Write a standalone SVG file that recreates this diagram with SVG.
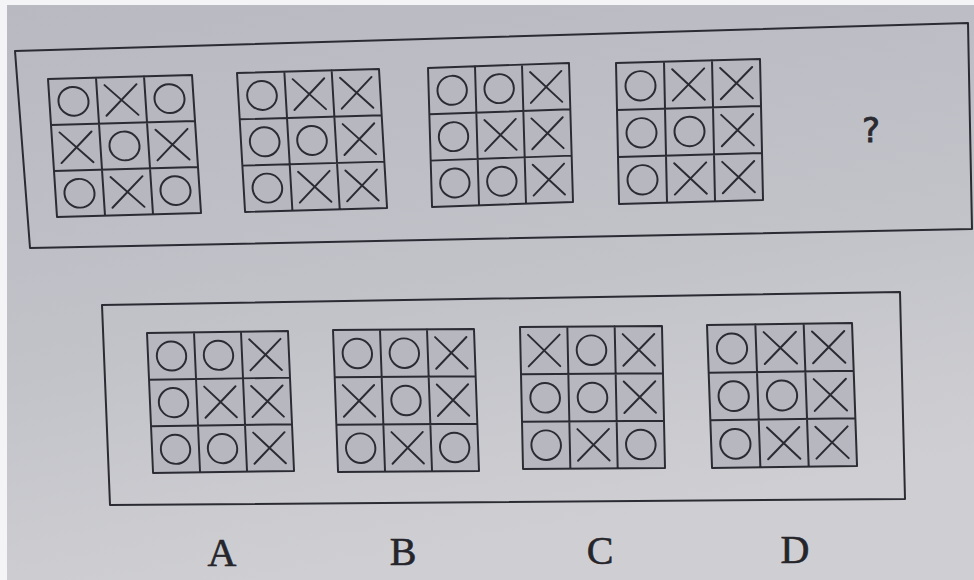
<svg xmlns="http://www.w3.org/2000/svg" xmlns:xlink="http://www.w3.org/1999/xlink" width="974" height="580" viewBox="0 0 974 580">
<style>
.ln{fill:none;stroke:#2b2b33;stroke-width:2;stroke-linecap:round;stroke-linejoin:round}
.cell{fill:#b6b7bf}
.lbl{font-family:"Liberation Serif","Times New Roman",serif;font-size:40px;fill:#25252b;stroke:#25252b;stroke-width:0.6;text-anchor:middle}
.q{font-family:"DejaVu Sans","Liberation Sans",sans-serif;font-size:34px;fill:#2a2a30;stroke:#2a2a30;stroke-width:0.8;text-anchor:middle}
</style>
<defs>
<linearGradient id="bg" x1="0" y1="0" x2="0.3" y2="1">
<stop offset="0" stop-color="#b8b9c1"/>
<stop offset="0.6" stop-color="#c2c3c9"/>
<stop offset="1" stop-color="#cfcfd3"/>
</linearGradient>
<g id="o"><circle class="ln" r="15"/></g>
<g id="x"><path class="ln" d="M-16,-16L16,16M16,-16L-16,16"/></g>
<g id="frame"><rect class="cell" x="0" y="0" width="144" height="144"/><path class="ln" d="M0,0H144V144H0ZM48,0V144M96,0V144M0,48H144M0,96H144"/></g>
</defs>
<rect width="974" height="580" fill="url(#bg)"/>
<rect x="0" y="0" width="974" height="5" fill="#f4f4f6"/>
<rect x="0" y="0" width="7" height="580" fill="#f4f4f6"/>
<g id="question-box"><polygon class="ln" points="15,51 968,23 972,229 30,248"/></g>
<g id="options-box"><polygon class="ln" points="102,305 900,292 905,499 110,505"/></g>
<g id="grid1" transform="matrix(1,-0.028,0.0625,0.958,48,79)">
<use href="#frame"/>
<use href="#o" x="24" y="24"/><use href="#x" x="72" y="24"/><use href="#o" x="120" y="24"/>
<use href="#x" x="24" y="72"/><use href="#o" x="72" y="72"/><use href="#x" x="120" y="72"/>
<use href="#o" x="24" y="120"/><use href="#x" x="72" y="120"/><use href="#o" x="120" y="120"/>
</g>
<g id="grid2" transform="matrix(0.986,-0.028,0.056,0.965,237,73)">
<use href="#frame"/>
<use href="#o" x="24" y="24"/><use href="#x" x="72" y="24"/><use href="#x" x="120" y="24"/>
<use href="#o" x="24" y="72"/><use href="#o" x="72" y="72"/><use href="#x" x="120" y="72"/>
<use href="#o" x="24" y="120"/><use href="#x" x="72" y="120"/><use href="#x" x="120" y="120"/>
</g>
<g id="grid3" transform="matrix(0.979,-0.035,0.028,0.965,428,68)">
<use href="#frame"/>
<use href="#o" x="24" y="24"/><use href="#o" x="72" y="24"/><use href="#x" x="120" y="24"/>
<use href="#o" x="24" y="72"/><use href="#x" x="72" y="72"/><use href="#x" x="120" y="72"/>
<use href="#o" x="24" y="120"/><use href="#o" x="72" y="120"/><use href="#x" x="120" y="120"/>
</g>
<g id="grid4" transform="matrix(1,-0.028,0.021,0.979,616,63)">
<use href="#frame"/>
<use href="#o" x="24" y="24"/><use href="#x" x="72" y="24"/><use href="#x" x="120" y="24"/>
<use href="#o" x="24" y="72"/><use href="#o" x="72" y="72"/><use href="#x" x="120" y="72"/>
<use href="#o" x="24" y="120"/><use href="#x" x="72" y="120"/><use href="#x" x="120" y="120"/>
</g>
<g id="question-mark"><text class="q" x="871" y="142">?</text></g>
<g id="optionA" transform="matrix(0.979,-0.014,0.042,0.972,147,333)">
<use href="#frame"/>
<use href="#o" x="24" y="24"/><use href="#o" x="72" y="24"/><use href="#x" x="120" y="24"/>
<use href="#o" x="24" y="72"/><use href="#x" x="72" y="72"/><use href="#x" x="120" y="72"/>
<use href="#o" x="24" y="120"/><use href="#o" x="72" y="120"/><use href="#x" x="120" y="120"/>
</g>
<g id="optionB" transform="matrix(0.979,-0.007,0.035,0.986,333,330)">
<use href="#frame"/>
<use href="#o" x="24" y="24"/><use href="#o" x="72" y="24"/><use href="#x" x="120" y="24"/>
<use href="#x" x="24" y="72"/><use href="#o" x="72" y="72"/><use href="#x" x="120" y="72"/>
<use href="#o" x="24" y="120"/><use href="#x" x="72" y="120"/><use href="#o" x="120" y="120"/>
</g>
<g id="optionC" transform="matrix(0.986,-0.007,0.021,0.986,520,327)">
<use href="#frame"/>
<use href="#x" x="24" y="24"/><use href="#o" x="72" y="24"/><use href="#x" x="120" y="24"/>
<use href="#o" x="24" y="72"/><use href="#o" x="72" y="72"/><use href="#x" x="120" y="72"/>
<use href="#o" x="24" y="120"/><use href="#x" x="72" y="120"/><use href="#o" x="120" y="120"/>
</g>
<g id="optionD" transform="matrix(1.007,-0.014,0.035,0.993,707,325)">
<use href="#frame"/>
<use href="#o" x="24" y="24"/><use href="#x" x="72" y="24"/><use href="#x" x="120" y="24"/>
<use href="#o" x="24" y="72"/><use href="#o" x="72" y="72"/><use href="#x" x="120" y="72"/>
<use href="#o" x="24" y="120"/><use href="#x" x="72" y="120"/><use href="#x" x="120" y="120"/>
</g>
<g id="label-A"><text class="lbl" x="222" y="566">A</text></g>
<g id="label-B"><text class="lbl" x="403" y="565">B</text></g>
<g id="label-C"><text class="lbl" x="600" y="564">C</text></g>
<g id="label-D"><text class="lbl" x="795" y="563">D</text></g>
</svg>
